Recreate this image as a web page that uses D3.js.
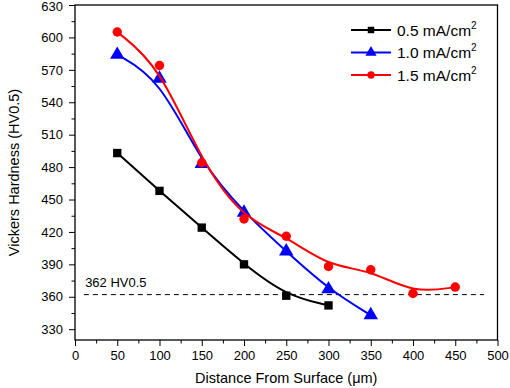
<!DOCTYPE html>
<html>
<head>
<meta charset="utf-8">
<script src="https://cdn.jsdelivr.net/npm/d3@7"></script>
<style>
  body { margin: 0; background: #fff; }
  svg text { font-family: "Liberation Sans", Arial, sans-serif; fill: #000; }
</style>
</head>
<body>
<div id="chart"></div>
<script>
// chart data
const distances = [50, 100, 150, 200, 250, 300, 350, 400, 450];
const series05 = [493, 458, 424, 390, 361, 352];
const series10 = [584, 562, 483, 438, 402, 367, 343];
const series15 = [605, 574, 484, 432, 416, 388, 385, 363, 369];
const seriesNames = ["0.5 mA/cm", "1.0 mA/cm", "1.5 mA/cm"];
const xTicks = [0, 50, 100, 150, 200, 250, 300, 350, 400, 450, 500];
const yTicks = [330, 360, 390, 420, 450, 480, 510, 540, 570, 600, 630];
const refValue = 362;
const refLabel = "362 HV0.5";

const width = 510;
const height = 388;
const margin = {left: 75, right: 12.5, top: 5, bottom: 48};

const svg = d3.select("#chart")
  .append("svg")
  .attr("width", width)
  .attr("height", height);

const x = d3.scaleLinear()
  .domain([0, 500])
  .range([margin.left, width - margin.right]);

const y = d3.scaleLinear()
  .domain([320, 630])
  .range([height - margin.bottom, margin.top]);

// minor ticks
const xMinor = d3.range(25, 500, 50);
const yMinor = d3.range(345, 630, 30);

svg.append("g")
  .attr("transform", `translate(0,${y(320)})`)
  .call(d3.axisBottom(x).tickValues(xMinor).tickSize(3.5).tickFormat(""))
  .call(g => g.select(".domain").remove())
  .selectAll("line").attr("stroke-width", 1);

svg.append("g")
  .attr("transform", `translate(${x(0)},0)`)
  .call(d3.axisLeft(y).tickValues(yMinor).tickSize(3.5).tickFormat(""))
  .call(g => g.select(".domain").remove())
  .selectAll("line").attr("stroke-width", 1);

// major axes
const xAxis = svg.append("g")
  .attr("transform", `translate(0,${y(320)})`)
  .call(d3.axisBottom(x).tickValues(xTicks).tickSize(6).tickSizeOuter(0).tickPadding(5));
xAxis.select(".domain").remove();
xAxis.selectAll("line").attr("stroke-width", 1);
xAxis.selectAll("text").attr("font-size", "13px")
  .style("font-family", "'Liberation Sans', Arial, sans-serif");

const yAxis = svg.append("g")
  .attr("transform", `translate(${x(0)},0)`)
  .call(d3.axisLeft(y).tickValues(yTicks).tickSize(6).tickSizeOuter(0).tickPadding(6));
yAxis.select(".domain").remove();
yAxis.selectAll("line").attr("stroke-width", 1);
yAxis.selectAll("text").attr("font-size", "13px")
  .style("font-family", "'Liberation Sans', Arial, sans-serif");
// keep the top label inside the page
yAxis.selectAll(".tick").filter(d => d === 630).select("text").attr("y", 1.5);

// frame
svg.append("rect")
  .attr("x", x(0))
  .attr("y", y(630))
  .attr("width", x(500) - x(0))
  .attr("height", y(320) - y(630))
  .attr("fill", "none")
  .attr("stroke", "#000")
  .attr("stroke-width", 1.3);

// axis titles
svg.append("text")
  .attr("x", (x(0) + x(500)) / 2)
  .attr("y", 383)
  .attr("text-anchor", "middle")
  .attr("font-size", "14.5px")
  .text("Distance From Surface (μm)");

svg.append("text")
  .attr("transform", `translate(19,${(y(320) + y(630)) / 2}) rotate(-90)`)
  .attr("text-anchor", "middle")
  .attr("font-size", "14.5px")
  .text("Vickers Hardness (HV0.5)");

// reference line
svg.append("line")
  .attr("x1", x(10.5)).attr("x2", x(484))
  .attr("y1", y(refValue)).attr("y2", y(refValue))
  .attr("stroke", "#000")
  .attr("stroke-width", 1)
  .attr("stroke-dasharray", "5,4");

svg.append("text")
  .attr("x", x(12))
  .attr("y", y(refValue) - 8)
  .attr("font-size", "13px")
  .text(refLabel);

const allSeries = [
  {name: seriesNames[0], values: series05, color: "#000000", shape: d3.symbolSquare, size: 70},
  {name: seriesNames[1], values: series10, color: "#0000ff", shape: d3.symbolTriangle, size: 90},
  {name: seriesNames[2], values: series15, color: "#ff0000", shape: d3.symbolCircle, size: 70}
];

// B-spline smoothing, like the original plot's spline connector
const line = d3.line()
  .x(d => x(d.x))
  .y(d => y(d.y))
  .curve(d3.curveBasis);

allSeries.forEach(s => {
  const pts = s.values.map((v, i) => ({x: distances[i], y: v}));
  svg.append("path")
    .datum(pts)
    .attr("d", line)
    .attr("fill", "none")
    .attr("stroke", s.color)
    .attr("stroke-width", 2);
  svg.selectAll(null)
    .data(pts)
    .enter()
    .append("path")
    .attr("d", d3.symbol().type(s.shape).size(s.size))
    .attr("transform", d => `translate(${x(d.x)},${y(d.y)})`)
    .attr("fill", s.color);
});

// legend
const legend = svg.append("g");
allSeries.forEach((s, i) => {
  const ly = 30 + i * 22.5;
  legend.append("line")
    .attr("x1", 351).attr("x2", 391)
    .attr("y1", ly).attr("y2", ly)
    .attr("stroke", s.color)
    .attr("stroke-width", 2);
  legend.append("path")
    .attr("d", d3.symbol().type(s.shape).size(s.size * 0.6))
    .attr("transform", `translate(371,${ly})`)
    .attr("fill", s.color);
  const t = legend.append("text")
    .attr("x", 397)
    .attr("y", ly + 5.5)
    .attr("font-size", "15.5px")
    .text(s.name);
  t.append("tspan")
    .attr("dy", -7)
    .attr("font-size", "10px")
    .text("2");
});
</script>
</body>
</html>
